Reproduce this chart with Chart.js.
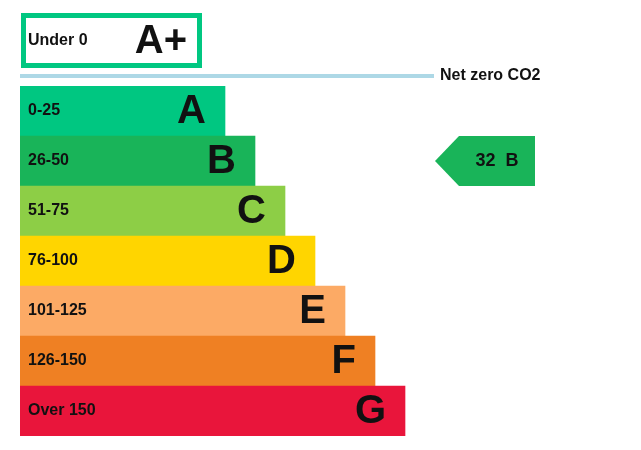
<!DOCTYPE html>
<html>
<head>
<meta charset="utf-8">
<script src="https://cdn.jsdelivr.net/npm/chart.js@4"></script>
<style>
  html, body { margin:0; padding:0; background:#fff; }
  #wrap { width:641px; height:450px; position:relative; }
</style>
</head>
<body>
<div id="wrap"><canvas id="epc"></canvas></div>
<script>
// Bands (top to bottom)
const bands = ['A', 'B', 'C', 'D', 'E', 'F', 'G'];
const ranges = ['0-25', '26-50', '51-75', '76-100', '101-125', '126-150', 'Over 150'];
const bandLengths = [205, 235, 265, 295, 325, 355, 385];
const bandColors = ['#00c781', '#19b459', '#8dce46', '#ffd500', '#fcaa65', '#ef8023', '#e9153b'];

// Top band + current rating
const topBand = 'A+';
const topRange = 'Under 0';
const netZeroLabel = 'Net zero CO2';
const currentValue = 32;
const currentBand = 'B';

const FONT = '"Liberation Sans", Arial, sans-serif';

const epcPlugin = {
  id: 'epc',
  afterDatasetsDraw(chart){
    const {ctx, x = chart.scales.x} = chart;
    const meta = chart.getDatasetMeta(0);
    ctx.save();

    // A+ box
    ctx.strokeStyle = '#00c781';
    ctx.lineWidth = 5;
    ctx.strokeRect(x.getPixelForValue(0) + 3.5, 15.5, 176, 50);
    ctx.fillStyle = '#111';
    ctx.textBaseline = 'middle';
    ctx.textAlign = 'left';
    ctx.font = 'bold 16px ' + FONT;
    ctx.fillText(topRange, 28, 41);
    ctx.textAlign = 'right';
    ctx.font = 'bold 40px ' + FONT;
    ctx.fillText(topBand, 187, 42);

    // net zero line
    ctx.fillStyle = '#add8e6';
    ctx.fillRect(x.getPixelForValue(0), 74, 414, 4);
    ctx.fillStyle = '#111';
    ctx.textAlign = 'left';
    ctx.font = 'bold 16px ' + FONT;
    ctx.fillText(netZeroLabel, 440, 76);

    // band labels
    meta.data.forEach((bar, i) => {
      ctx.fillStyle = '#111';
      ctx.textAlign = 'left';
      ctx.font = 'bold 16px ' + FONT;
      ctx.fillText(ranges[i], 28, bar.y);
      ctx.textAlign = 'right';
      ctx.font = 'bold 40px ' + FONT;
      ctx.fillText(bands[i], bar.x - 19, bar.y + 1);
    });

    // current rating arrow
    const idx = bands.indexOf(currentBand);
    const bar = meta.data[idx];
    const h = bar.height;
    const cy = bar.y;
    const tip = x.getPixelForValue(415), body = x.getPixelForValue(439), end = x.getPixelForValue(515);
    ctx.fillStyle = bandColors[idx];
    ctx.beginPath();
    ctx.moveTo(tip, cy);
    ctx.lineTo(body, cy - h/2);
    ctx.lineTo(end, cy - h/2);
    ctx.lineTo(end, cy + h/2);
    ctx.lineTo(body, cy + h/2);
    ctx.closePath();
    ctx.fill();
    ctx.fillStyle = '#111';
    ctx.textAlign = 'center';
    ctx.font = 'bold 18px ' + FONT;
    ctx.fillText(currentValue + '  ' + currentBand, (body + end)/2, cy);

    ctx.restore();
  }
};

new Chart(document.getElementById('epc'), {
  type: 'bar',
  data: {
    labels: bands,
    datasets: [{
      data: bandLengths,
      backgroundColor: bandColors,
      borderWidth: 0,
      barPercentage: 1,
      categoryPercentage: 1
    }]
  },
  options: {
    indexAxis: 'y',
    responsive: true,
    maintainAspectRatio: false,
    animation: false,
    layout: { padding: { left:20, right:0, top:86, bottom:14 } },
    plugins: { legend: { display:false }, tooltip: { enabled:false } },
    scales: {
      x: { display:false, min:0, max:621 },
      y: { display:false }
    }
  },
  plugins: [epcPlugin]
});
</script>
</body>
</html>
